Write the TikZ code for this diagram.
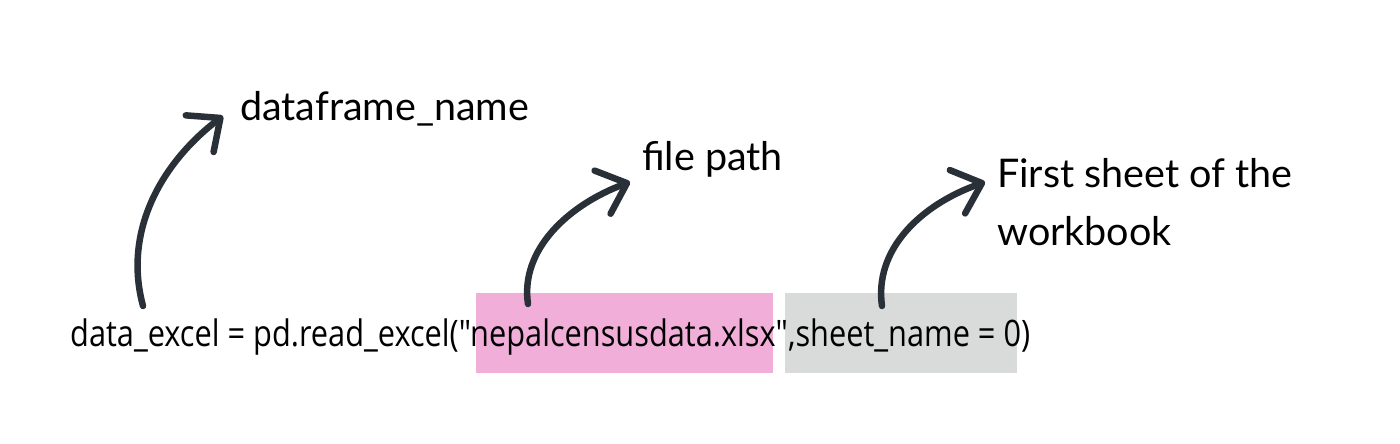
\documentclass[tikz,border=0pt]{standalone}
\usepackage{fontspec}
\usepackage{graphicx}
\usetikzlibrary{arrows.meta}
\newfontfamily\codefont{Open Sans}
\newfontfamily\labelfont{Lato}
\definecolor{arrowcol}{HTML}{2A3038}
\definecolor{pinkbox}{HTML}{F0AED9}
\definecolor{graybox}{HTML}{D9DADA}
\tikzset{
  curvearrow/.style={draw=arrowcol, line width=6.5pt, line cap=round,
    -{Straight Barb[length=26pt,width=46pt,line cap=round,line join=round]}},
  lbl/.style={inner sep=0pt, anchor=base west, font=\labelfont\fontsize{39.5}{58}\selectfont},
}
\begin{document}
\begin{tikzpicture}[x=1pt,y=-1pt]
\useasboundingbox (0,0) rectangle (1400,444);
\fill[white] (0,0) rectangle (1400,444);
% highlight boxes
\node[fill=pinkbox, minimum width=297pt, minimum height=80pt, inner sep=0pt, anchor=north west] (pinkhl) at (476,293) {};
\node[fill=graybox, minimum width=232pt, minimum height=80pt, inner sep=0pt, anchor=north west] (grayhl) at (785,293) {};
% code line
\node[inner sep=0pt, anchor=base west] (code) at (70,346)
  {\resizebox{960pt}{\height}{\codefont\fontsize{36.5}{40}\selectfont data\_excel = pd.read\_excel("nepalcensusdata.xlsx",sheet\_name = 0)}};
% labels
\node[lbl] (dfname) at (240,120) {dataframe\_name};
\node[lbl] (fpath) at (642,170) {file path};
\node[lbl, align=left] (sheet) at (997,245) {First sheet of the\\workbook};
% arrow end points
\coordinate (s1) at (143,306);
\coordinate (t1) at (223,116);
\coordinate (s2) at (528,304);
\coordinate (t2) at (630,182);
\coordinate (s3) at (882,306);
\coordinate (t3) at (985,182);
\draw[curvearrow] (s1) .. controls (122,228) and (165,160) .. (t1);
\draw[curvearrow] (s2) .. controls (520,250) and (568,205) .. (t2);
\draw[curvearrow] (s3) .. controls (874,250) and (920,205) .. (t3);
\end{tikzpicture}
\end{document}
